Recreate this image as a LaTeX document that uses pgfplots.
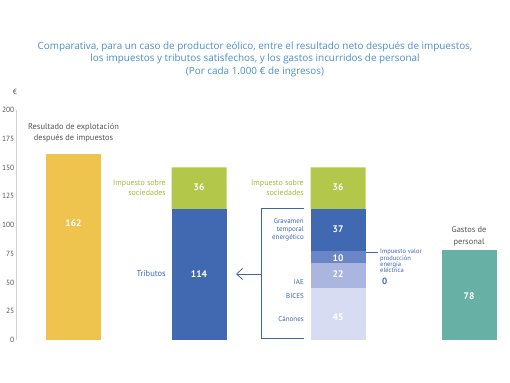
\documentclass[border=0pt]{standalone}
\usepackage{pgfplots}
\pgfplotsset{compat=1.18}
\usetikzlibrary{arrows.meta}
\usepackage{fontspec}
\setmainfont{PT Sans}
\newfontfamily\titlefont{Open Sans}
\definecolor{cyel}{HTML}{EEC44F}
\definecolor{cgreen}{HTML}{B3C84A}
\definecolor{cblue}{HTML}{4169B2}
\definecolor{cmid}{HTML}{6A86C6}
\definecolor{clight}{HTML}{AAB6E0}
\definecolor{cvlight}{HTML}{D8DCF2}
\definecolor{cteal}{HTML}{66B0A5}
\definecolor{ctitle}{HTML}{4A8FCC}
\definecolor{cgtext}{HTML}{A3BC3A}
\definecolor{cbtext}{HTML}{3F66B0}
\definecolor{cgray}{HTML}{555555}
\tikzset{
  val/.style={font=\fontsize{9.5}{10}\selectfont\bfseries, text=white},
  blab/.style={font=\fontsize{7}{8}\selectfont, text=cbtext, anchor=east, inner sep=0pt, align=right},
}
\begin{document}
\begin{tikzpicture}[x=1pt,y=1pt]
\useasboundingbox (0,0) rectangle (510,382);
\begin{axis}[
  at={(16pt,42pt)}, anchor=south west,
  scale only axis, width=494pt, height=230pt,
  xmin=16, xmax=510, ymin=0, ymax=200,
  ybar stacked, bar width=55,
  hide x axis, axis y line*=left,
  y axis line style={draw=gray!35, line width=0.6pt},
  ytick={0,25,...,200}, major tick length=0pt,
  yticklabel style={font=\fontsize{7.5}{8}\selectfont, text=cgray, inner xsep=1.5pt},
  /pgf/number format/assume math mode=true,
  clip=false,
]
\addplot[fill=cyel, draw=none] coordinates {(73.5,162) (199,0) (338,0) (469,0)};
\addplot[fill=cteal, draw=none] coordinates {(73.5,0) (199,0) (338,0) (469,78)};
\addplot[fill=cblue, draw=none] coordinates {(73.5,0) (199,114) (338,0) (469,0)};
\addplot[fill=cvlight, draw=none] coordinates {(73.5,0) (199,0) (338,45) (469,0)};
\addplot[fill=clight, draw=none] coordinates {(73.5,0) (199,0) (338,22) (469,0)};
\addplot[fill=cmid, draw=none] coordinates {(73.5,0) (199,0) (338,10) (469,0)};
\addplot[fill=cblue, draw=none] coordinates {(73.5,0) (199,0) (338,37) (469,0)};
\addplot[fill=cgreen, draw=none] coordinates {(73.5,0) (199,36) (338,36) (469,0)};

\coordinate (v1) at (axis cs:73.5,101.7);
\coordinate (v2) at (axis cs:199,133);
\coordinate (v3) at (axis cs:199,57.4);
\coordinate (v4) at (axis cs:338,133);
\coordinate (v5) at (axis cs:338,96.5);
\coordinate (v6) at (axis cs:338,71.5);
\coordinate (v7) at (axis cs:338,57.4);
\coordinate (v8) at (axis cs:338,20);
\coordinate (v9) at (axis cs:469,38.3);

\node[font=\fontsize{8.4}{11}\selectfont, text=cgray, align=center] at (axis cs:73.5,180.4) {Resultado de explotación\\después de impuestos};
\node[font=\fontsize{8.4}{11.5}\selectfont, text=cgray, align=center] at (axis cs:469,90) {Gastos de\\personal};
\node[font=\fontsize{8}{9.5}\selectfont, text=cgtext, align=right, anchor=east, inner sep=0pt] at (axis cs:166,132.6) {Impuesto sobre\\sociedades};
\node[font=\fontsize{8}{9.5}\selectfont, text=cgtext, align=right, anchor=east, inner sep=0pt] at (axis cs:304,132.6) {Impuesto sobre\\sociedades};
\node[font=\fontsize{8.5}{9}\selectfont, text=cbtext, anchor=east, inner sep=0pt] at (axis cs:166,57.4) {Tributos};
\node[blab] at (axis cs:304,95.7) {Gravamen\\temporal\\energético};
\node[blab] at (axis cs:304,50.4) {IAE};
\node[blab] at (axis cs:304,38.3) {BICES};
\node[blab] at (axis cs:304,18.3) {Cánones};
\node[font=\fontsize{6.5}{6.2}\selectfont, text=cbtext, anchor=west, inner sep=0pt, align=left] at (axis cs:380,68.7) {Impuesto valor\\producción\\energía\\eléctrica};
\node[font=\fontsize{9}{9}\selectfont\bfseries, text=cbtext, anchor=west, inner sep=0pt] at (axis cs:382,51.3) {0};
\draw[cbtext, line width=0.6pt] (axis cs:366,76.5) -- (axis cs:378,76.5);
\draw[cbtext, line width=0.9pt] (axis cs:304,114.8) -- (axis cs:261,114.8) -- (axis cs:261,1.7) -- (axis cs:304,1.7);
\draw[cbtext, line width=0.8pt, -{Straight Barb[length=6pt,width=11pt]}] (axis cs:261,57.4) -- (axis cs:236,57.4);
\node[font=\fontsize{7.5}{8}\selectfont, text=cgray] at (axis cs:15,215.7) {€};
\end{axis}
\node[val] at (v1) {162};
\node[val] at (v2) {36};
\node[val] at (v3) {114};
\node[val] at (v4) {36};
\node[val] at (v5) {37};
\node[val] at (v6) {10};
\node[val] at (v7) {22};
\node[val] at (v8) {45};
\node[val] at (v9) {78};
\node[font=\titlefont\fontsize{9.9}{12.5}\selectfont, text=ctitle, align=center] at (255,323) {Comparativa, para un caso de productor eólico, entre el resultado neto después de impuestos,\\los impuestos y tributos satisfechos, y los gastos incurridos de personal\\(Por cada 1.000 € de ingresos)};
\end{tikzpicture}
\end{document}
